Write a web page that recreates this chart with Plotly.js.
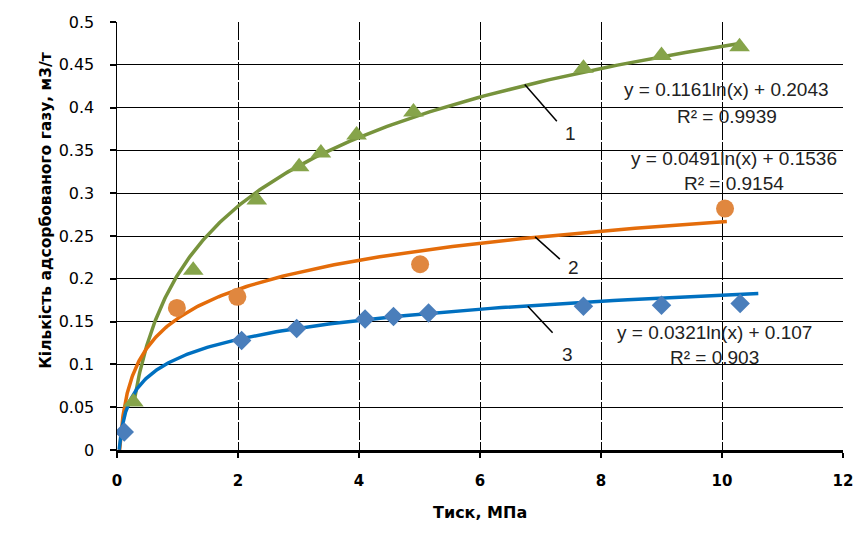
<!DOCTYPE html>
<html><head><meta charset="utf-8">
<script src="https://cdn.plot.ly/plotly-3.0.1.min.js"></script>
<style>body{margin:0;background:#fff}#c{width:858px;height:534px}</style>
</head><body><div id="c"></div>
<script>
// Series 1 (green triangles)
const x1 = [0.27, 1.26, 2.31, 3.01, 3.37, 3.96, 4.90, 7.71, 9.00, 10.29];
const y1 = [0.056, 0.210, 0.292, 0.331, 0.347, 0.368, 0.395, 0.446, 0.461, 0.471];
// Series 2 (orange circles)
const x2 = [0.99, 1.99, 5.01, 10.05];
const y2 = [0.166, 0.179, 0.217, 0.282];
// Series 3 (blue diamonds)
const x3 = [0.12, 2.06, 2.97, 4.10, 4.57, 5.15, 7.71, 9.00, 10.30];
const y3 = [0.021, 0.128, 0.142, 0.153, 0.156, 0.160, 0.168, 0.169, 0.171];
// Logarithmic trendline coefficients y = a ln(x) + b, and drawn x range
const fitA = [0.1161, 0.0491, 0.0321];
const fitB = [0.2043, 0.1536, 0.107];
const fitR2 = ["0.9939", "0.9154", "0.903"];
const fitFrom = [0.27, 0.044, 0.036];
const fitTo = [10.29, 10.08, 10.6];
const curveLabels = ["1", "2", "3"];

function trend(i){
  const xs=[], ys=[]; const n=200;
  const l0=Math.log(fitFrom[i]), l1=Math.log(fitTo[i]);
  for(let k=0;k<=n;k++){const x=Math.exp(l0+(l1-l0)*k/n); xs.push(x); ys.push(fitA[i]*Math.log(x)+fitB[i]);}
  return {xs, ys};
}
const lineCol=['#77933C','#E46C0A','#0070C0'];
const t=[0,1,2].map(trend);
const data=[
 {x:t[0].xs,y:t[0].ys,mode:'lines',line:{color:lineCol[0],width:3.5},hoverinfo:'skip'},
 {x:t[1].xs,y:t[1].ys,mode:'lines',line:{color:lineCol[1],width:3.5},hoverinfo:'skip'},
 {x:t[2].xs,y:t[2].ys,mode:'lines',line:{color:lineCol[2],width:3.5},hoverinfo:'skip'},
 {x:x1,y:y1,mode:'markers',marker:{symbol:'triangle-up',size:18,color:'#86A44A'}},
 {x:x2,y:y2,mode:'markers',marker:{symbol:'circle',size:18,color:'#E0873F'}},
 {x:x3,y:y3,mode:'markers',marker:{symbol:'diamond',size:15,color:'#4A7EBB'}}
];
const f={family:'Liberation Sans, Arial, sans-serif',size:19,color:'#222'};
function eq(i){return 'y = '+fitA[i]+'ln(x) + '+fitB[i];}
const ann=[
 {x:10.08,y:0.421,text:eq(0),showarrow:false,font:f},
 {x:10.08,y:0.390,text:'R² = '+fitR2[0],showarrow:false,font:f},
 {x:10.2,y:0.340,text:eq(1),showarrow:false,font:f},
 {x:10.2,y:0.311,text:'R² = '+fitR2[1],showarrow:false,font:f},
 {x:9.88,y:0.137,text:eq(2),showarrow:false,font:f},
 {x:9.88,y:0.108,text:'R² = '+fitR2[2],showarrow:false,font:f},
 {x:7.49,y:0.370,text:curveLabels[0],showarrow:false,font:f},
 {x:7.54,y:0.213,text:curveLabels[1],showarrow:false,font:f},
 {x:7.44,y:0.111,text:curveLabels[2],showarrow:false,font:f},
 {xref:'paper',yref:'paper',x:-0.113,y:0.561,textangle:-90,showarrow:false,
  text:'<b>Кількість адсорбованого газу, м3/т</b>',font:{family:'DejaVu Sans, sans-serif',size:15.5,color:'#000'}},
 {xref:'paper',yref:'paper',x:0.5,y:-0.173,showarrow:false,
  text:'<b>Тиск, МПа</b>',font:{family:'DejaVu Sans, sans-serif',size:16,color:'#000'}}
];
const shapes=[
 {type:'line',x0:6.74,y0:0.427,x1:7.27,y1:0.384,line:{color:'#000',width:1.5}},
 {type:'line',x0:6.91,y0:0.249,x1:7.32,y1:0.223,line:{color:'#000',width:1.5}},
 {type:'line',x0:6.79,y0:0.168,x1:7.2,y1:0.137,line:{color:'#000',width:1.5}}
];
const layout={
 width:858,height:534,margin:{l:117,r:15,t:22,b:84},
 paper_bgcolor:'#fff',plot_bgcolor:'#fff',showlegend:false,
 font:f,
 xaxis:{range:[0,12],dtick:2,tick0:0,showgrid:true,gridcolor:'#000',gridwidth:1,griddash:'18px,2px',
   showline:true,linecolor:'#000',linewidth:2.5,ticks:'outside',ticklen:5,tickcolor:'#000',tickwidth:2,
   zeroline:false,ticklabelstandoff:10,tickfont:{family:'DejaVu Sans, sans-serif',size:15,color:'#000',weight:'bold'}},
 yaxis:{range:[0,0.5],dtick:0.05,tick0:0,showgrid:true,gridcolor:'#000',gridwidth:1,
   showline:true,linecolor:'#000',linewidth:1.5,ticks:'outside',ticklen:6,tickcolor:'#000',tickwidth:2,
   zeroline:false,ticklabelstandoff:12,tickfont:{family:'DejaVu Sans, sans-serif',size:16,color:'#000'}},
 annotations:ann,shapes:shapes
};
Plotly.newPlot('c',data,layout,{displayModeBar:false,staticPlot:true});
</script></body></html>
